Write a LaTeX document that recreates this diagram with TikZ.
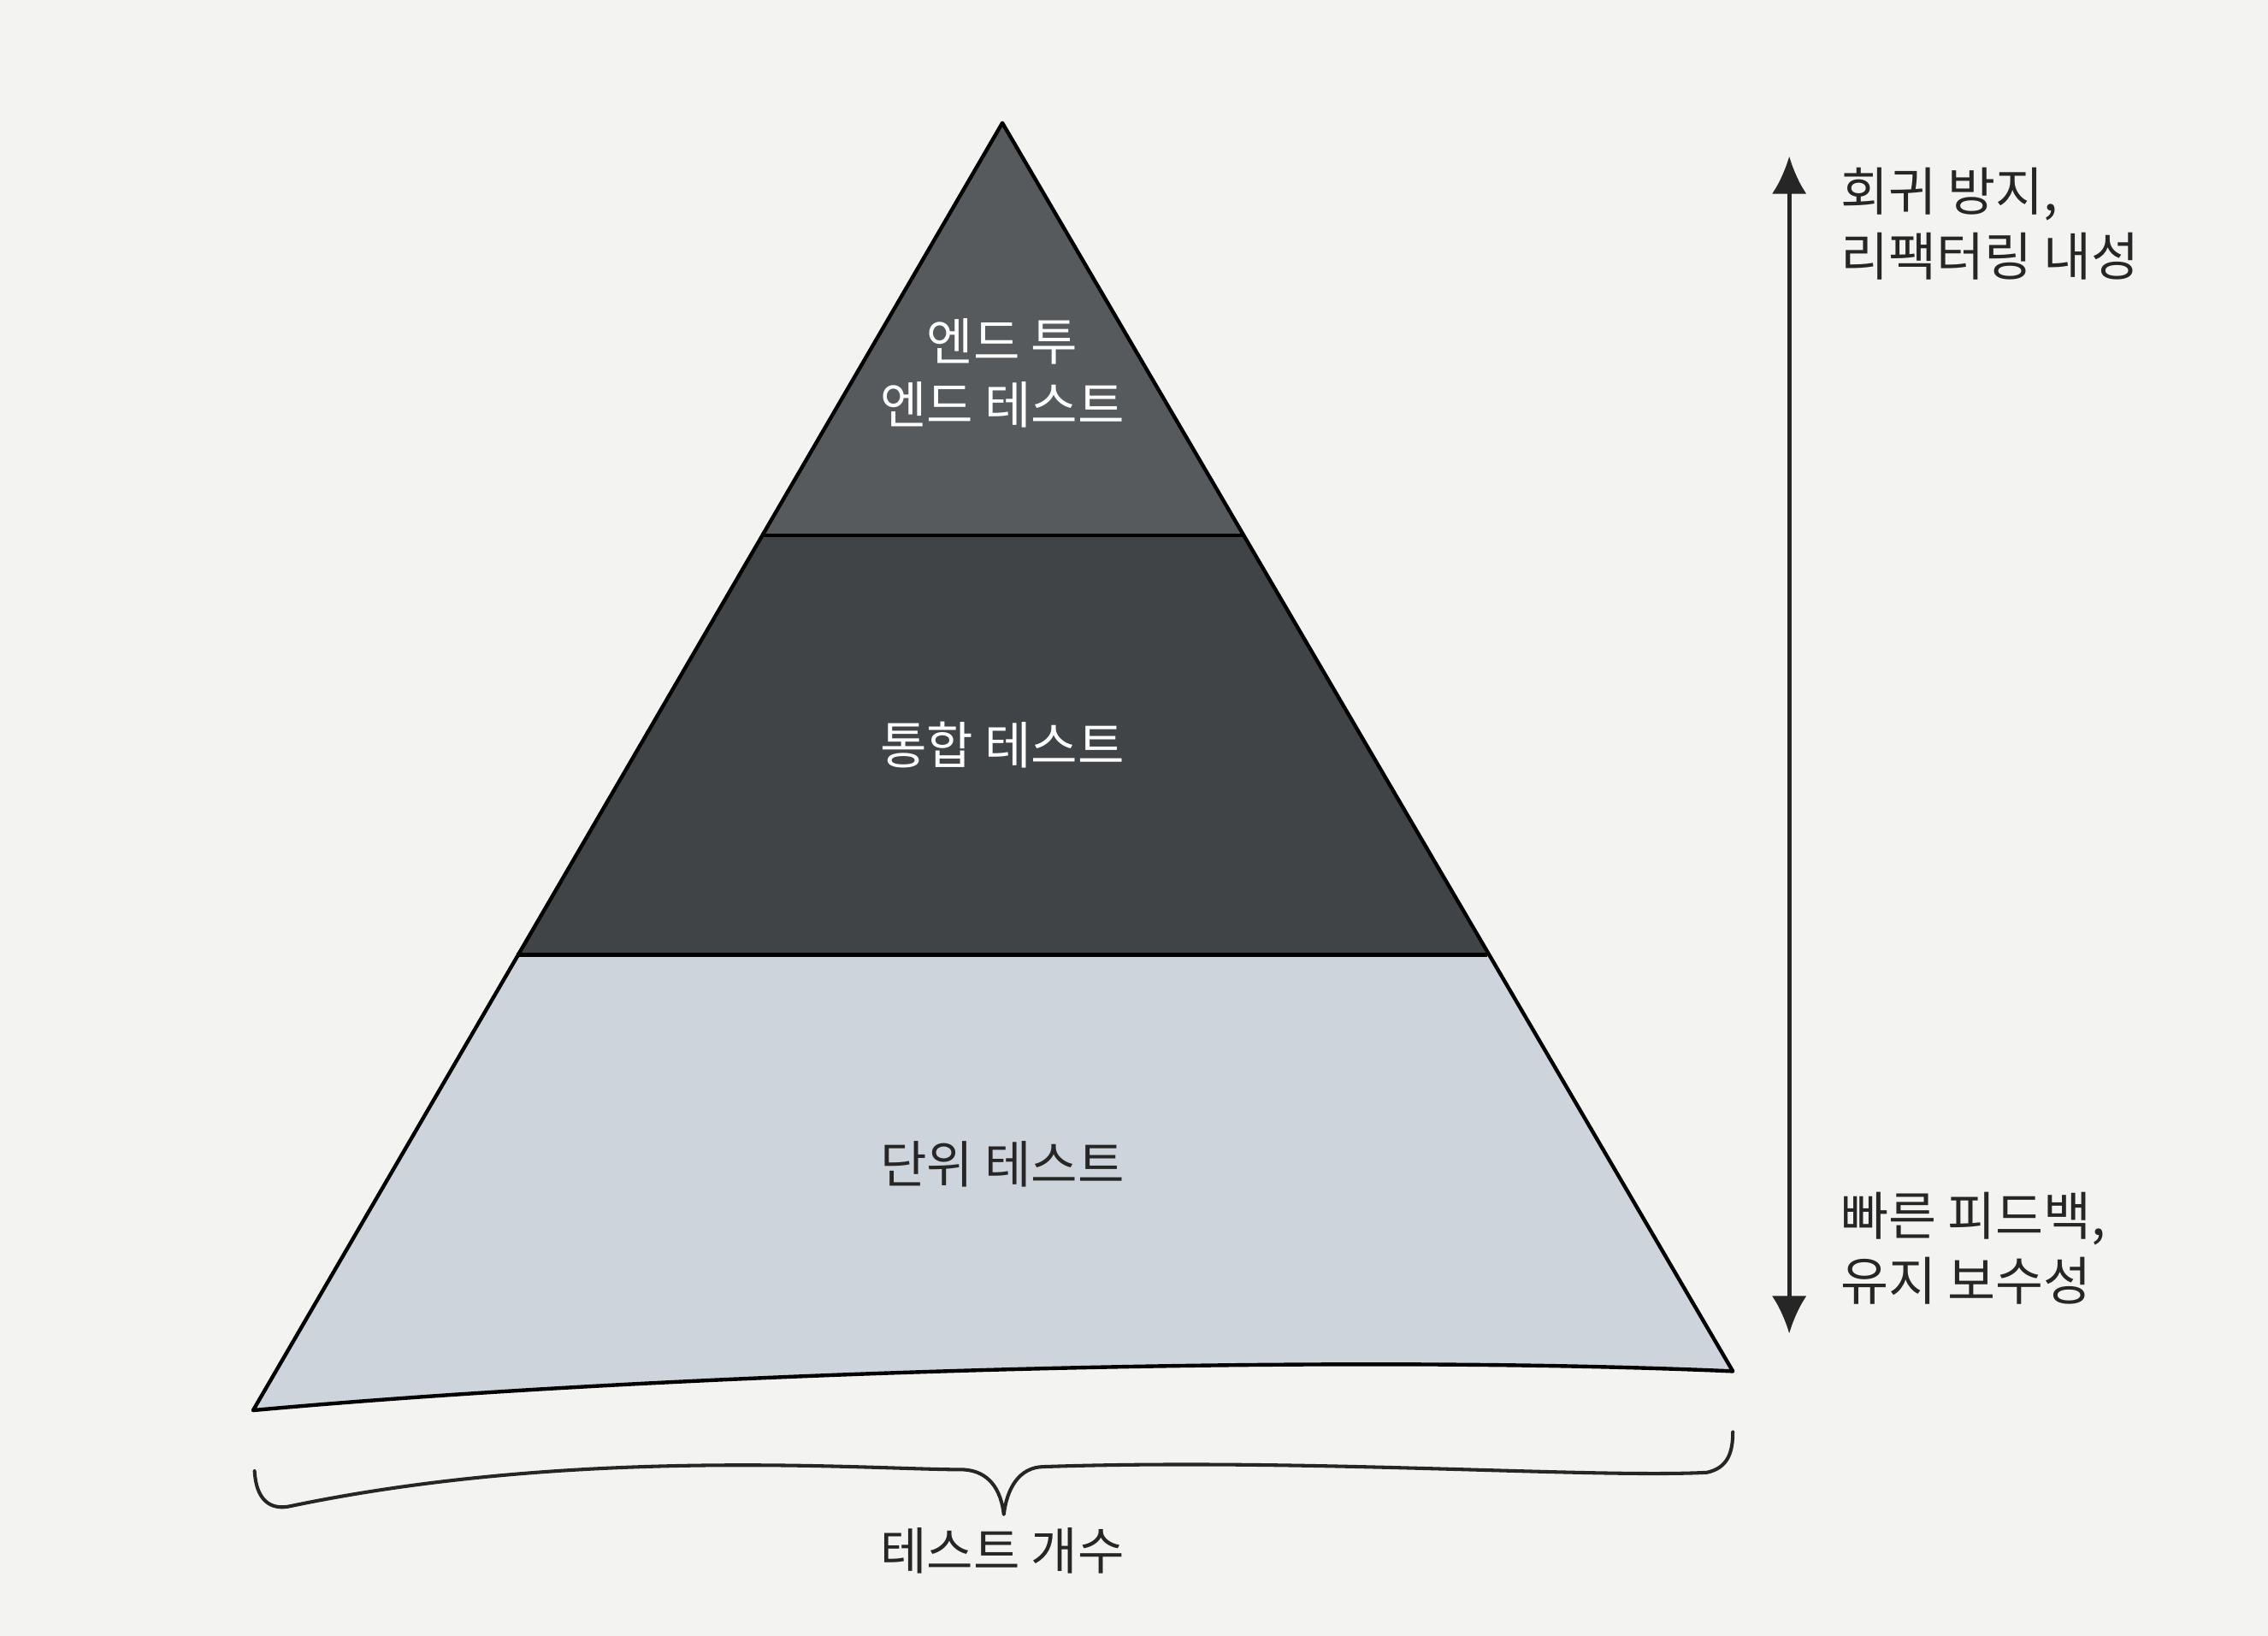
\documentclass[tikz,border=0pt]{standalone}
\usepackage{fontspec}
\newfontfamily\kr{Noto Sans CJK KR}
\usetikzlibrary{arrows.meta,positioning}
\definecolor{paper}{HTML}{F3F3F1}
\definecolor{topgray}{HTML}{575A5D}
\definecolor{midgray}{HTML}{404447}
\definecolor{basegray}{HTML}{CED4DB}
\definecolor{inkgray}{HTML}{262626}
\tikzstyle{layer} = [draw=black, line width=1.3pt, line join=round]
\tikzstyle{layertext} = [font=\kr\fontsize{17.5}{22}\selectfont, align=center,
    text=white, inner sep=0pt]
\tikzstyle{sidetext} = [font=\kr\fontsize{18}{22.5}\selectfont, align=left,
    text=inkgray, anchor=west, inner sep=0pt]
\tikzstyle{spanarrow} = [line width=1.5pt, draw=inkgray,
    {Latex[length=13pt,width=12pt]}-{Latex[length=13pt,width=12pt]}]

\begin{document}
\begin{tikzpicture}[x=0.5pt, y=-0.5pt]
    \fill[paper] (0,0) rectangle (1568,1131);
    \useasboundingbox (0,0) rectangle (1568,1131);

    \coordinate (apex) at (693,85);
    \coordinate (baseL) at (175,975);
    \coordinate (baseR) at (1198,948);
    \coordinate (cutL1) at (527,370);
    \coordinate (cutR1) at (860,370);
    \coordinate (cutL2) at (357,660);
    \coordinate (cutR2) at (1028,660);

    % layers
    \fill[basegray] (cutL2) -- (cutR2) -- (baseR) .. controls (900,935) and (450,950) .. (baseL) -- cycle;
    \fill[midgray] (cutL1) -- (cutR1) -- (cutR2) -- (cutL2) -- cycle;
    \fill[topgray] (apex) -- (cutR1) -- (cutL1) -- cycle;
    \path[layer] (apex) -- (baseR) .. controls (900,935) and (450,950) .. (baseL) -- cycle;
    \path[layer] (cutL1) -- (cutR1);
    \path[layer] (cutL2) -- (cutR2);

    \node[layertext] (e2e) at (693,258) {엔드 투\\엔드 테스트};
    \node[layertext] (integration) at (693,515) {통합 테스트};
    \node[layertext, text=inkgray] (unit) at (693,805) {단위 테스트};

    % right side
    \coordinate (high) at (1237,108);
    \coordinate (low) at (1237,922);
    \path[spanarrow] (low) -- (high);
    \node[sidetext] (upper) at (1272,155) {회귀 방지,\\리팩터링 내성};
    \node[sidetext] (lower) at (1272,863) {빠른 피드백,\\유지 보수성};

    % brace
    \draw[line width=1.2pt, draw=inkgray, line cap=round, line join=round]
        (176,1017) .. controls (177,1036) and (186,1045) .. (202,1041)
        .. controls (400,1000) and (600,1016) .. (666,1016)
        .. controls (684,1017) and (692,1030) .. (694,1047)
        .. controls (696,1030) and (704,1014) .. (722,1014)
        .. controls (900,1008) and (1100,1022) .. (1180,1018)
        .. controls (1194,1015) and (1198,1005) .. (1198,990);
    \node[sidetext, anchor=center, font=\kr\fontsize{17.5}{22}\selectfont] (count) at (693,1072) {테스트 개수};
\end{tikzpicture}
\end{document}
